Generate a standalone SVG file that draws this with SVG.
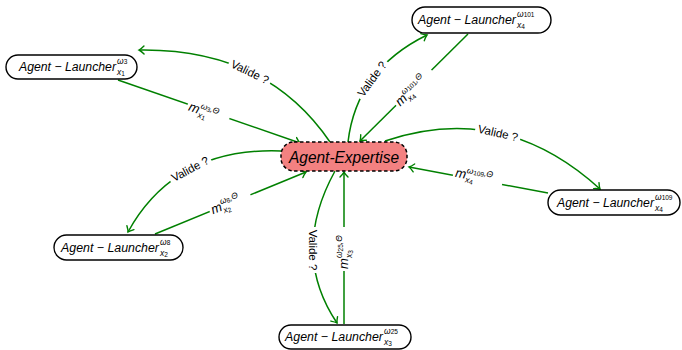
<svg xmlns="http://www.w3.org/2000/svg" width="682" height="350" viewBox="0 0 682 350">
<style>
  .ln{fill:#fff;stroke:#000;stroke-width:1.4}
  .ex{fill:#f38181;stroke:#000;stroke-width:1.5;stroke-dasharray:3.5 2.5}
  .lt{font-family:"Liberation Sans",Arial,sans-serif;font-style:italic;font-size:12.5px;fill:#000}
  .et{font-family:"Liberation Sans",Arial,sans-serif;font-style:italic;font-size:17px;fill:#000}
  .sup,.sub{font-family:"Liberation Sans",Arial,sans-serif;font-style:italic;font-size:8.5px;fill:#000}
  .ss{font-size:6.5px;font-style:normal}
  .e{fill:none;stroke:#008000;stroke-width:1.5;marker-end:url(#ah)}
  .lb{font-family:"Liberation Sans",Arial,sans-serif;font-size:11.5px;fill:#000}
  .m{font-family:"Liberation Sans",Arial,sans-serif;font-style:italic;font-size:13px;fill:#000}
  .bg{fill:#fff}
</style>
<defs>
  <marker id="ah" viewBox="-6 -5 8 10" markerWidth="8" markerHeight="10" refX="0" refY="0" orient="auto" markerUnits="userSpaceOnUse">
    <path d="M-5,-4 Q-2,-1 0,0 Q-2,1 -5,4" fill="none" stroke="#008000" stroke-width="1.4" stroke-linecap="round"/>
  </marker>
</defs>

<g id="connectors">
  <path class="e" d="M118,80 L300,143"/>
  <path class="e" d="M330,142 Q266,48 139,50"/>
  <path class="e" d="M348,142 Q356.5,69.5 427,35"/>
  <path class="e" d="M468,34 L360,141"/>
  <path class="e" d="M385,141 Q503.5,101 600,189"/>
  <path class="e" d="M548,193 L409,167"/>
  <path class="e" d="M281,151 Q175,147 128,232"/>
  <path class="e" d="M155,234 L306,172"/>
  <path class="e" d="M335,171 Q290,253 337,323"/>
  <path class="e" d="M344,324 L344,172"/>
</g>

<g id="labels">
  <g transform="translate(250,72) rotate(26)">
    <rect class="bg" x="-23" y="-8" width="46" height="15"/>
    <text class="lb" x="0" y="4" text-anchor="middle">Valide ?</text>
  </g>
  <g transform="translate(208,113) rotate(19)">
    <rect class="bg" x="-22" y="-11" width="44" height="20"/>
    <text class="m" x="-20" y="4">m</text>
    <text class="sup" x="-9" y="-2">ω<tspan class="ss" dy="1">3</tspan><tspan dy="-1">,Θ</tspan></text>
    <text class="sub" x="-9" y="7.5">x<tspan class="ss" dy="1">1</tspan></text>
  </g>
  <g transform="translate(372,79) rotate(-53.6)">
    <rect class="bg" x="-23" y="-8" width="46" height="15"/>
    <text class="lb" x="0" y="4" text-anchor="middle">Valide ?</text>
  </g>
  <g transform="translate(414,88) rotate(-44)">
    <rect class="bg" x="-25" y="-11" width="50" height="20"/>
    <text class="m" x="-23" y="4">m</text>
    <text class="sup" x="-12" y="-2">ω<tspan class="ss" dy="1">101</tspan><tspan dy="-1">,Θ</tspan></text>
    <text class="sub" x="-12" y="7.5">x<tspan class="ss" dy="1">4</tspan></text>
  </g>
  <g transform="translate(498,133) rotate(12.6)">
    <rect class="bg" x="-23" y="-8" width="46" height="15"/>
    <text class="lb" x="0" y="4" text-anchor="middle">Valide ?</text>
  </g>
  <g transform="translate(478,177) rotate(10.2)">
    <rect class="bg" x="-25" y="-11" width="50" height="20"/>
    <text class="m" x="-23" y="4">m</text>
    <text class="sup" x="-12" y="-2">ω<tspan class="ss" dy="1">109</tspan><tspan dy="-1">,Θ</tspan></text>
    <text class="sub" x="-12" y="7.5">x<tspan class="ss" dy="1">4</tspan></text>
  </g>
  <g transform="translate(190,169) rotate(-28)">
    <rect class="bg" x="-23" y="-8" width="46" height="15"/>
    <text class="lb" x="0" y="4" text-anchor="middle">Valide ?</text>
  </g>
  <g transform="translate(230,203) rotate(-22)">
    <rect class="bg" x="-22" y="-11" width="44" height="20"/>
    <text class="m" x="-20" y="4">m</text>
    <text class="sup" x="-9" y="-2">ω<tspan class="ss" dy="1">8</tspan><tspan dy="-1">,Θ</tspan></text>
    <text class="sub" x="-9" y="7.5">x<tspan class="ss" dy="1">2</tspan></text>
  </g>
  <g transform="translate(313,250) rotate(90)">
    <rect class="bg" x="-23" y="-8" width="46" height="15"/>
    <text class="lb" x="0" y="4" text-anchor="middle">Valide ?</text>
  </g>
  <g transform="translate(344,249) rotate(-90)">
    <rect class="bg" x="-22" y="-11" width="44" height="20"/>
    <text class="m" x="-20" y="4">m</text>
    <text class="sup" x="-9" y="-2">ω<tspan class="ss" dy="1">25</tspan><tspan dy="-1">,Θ</tspan></text>
    <text class="sub" x="-9" y="7.5">x<tspan class="ss" dy="1">3</tspan></text>
  </g>
</g>

<g id="agent-expertise">
  <rect class="ex" x="281" y="142" width="126" height="29" rx="13"/>
  <text class="et" x="344" y="162.5" text-anchor="middle" textLength="110" lengthAdjust="spacingAndGlyphs">Agent-Expertise</text>
</g>

<g id="launcher-x1-w3">
  <rect class="ln" x="6" y="55" width="131" height="24" rx="12"/>
  <text class="lt" x="19" y="71" textLength="97" lengthAdjust="spacingAndGlyphs">Agent − Launcher</text>
  <text class="sup" x="117" y="64">ω<tspan class="ss">3</tspan></text>
  <text class="sub" x="117" y="74.5">x<tspan class="ss" dy="1">1</tspan></text>
</g>

<g id="launcher-x4-w101">
  <rect class="ln" x="412" y="7" width="139" height="26" rx="13"/>
  <text class="lt" x="418" y="24" textLength="98" lengthAdjust="spacingAndGlyphs">Agent − Launcher</text>
  <text class="sup" x="517" y="17">ω<tspan class="ss">101</tspan></text>
  <text class="sub" x="517" y="27.5">x<tspan class="ss" dy="1">4</tspan></text>
</g>

<g id="launcher-x4-w109">
  <rect class="ln" x="548" y="190" width="132" height="25" rx="12.5"/>
  <text class="lt" x="557" y="207" textLength="97" lengthAdjust="spacingAndGlyphs">Agent − Launcher</text>
  <text class="sup" x="655" y="200">ω<tspan class="ss">109</tspan></text>
  <text class="sub" x="655" y="210.5">x<tspan class="ss" dy="1">4</tspan></text>
</g>

<g id="launcher-x2-w8">
  <rect class="ln" x="54" y="235" width="129" height="25" rx="12.5"/>
  <text class="lt" x="61" y="252" textLength="98" lengthAdjust="spacingAndGlyphs">Agent − Launcher</text>
  <text class="sup" x="160" y="245">ω<tspan class="ss">8</tspan></text>
  <text class="sub" x="160" y="255.5">x<tspan class="ss" dy="1">2</tspan></text>
</g>

<g id="launcher-x3-w25">
  <rect class="ln" x="279" y="325" width="132" height="24" rx="12"/>
  <text class="lt" x="285" y="341" textLength="98" lengthAdjust="spacingAndGlyphs">Agent − Launcher</text>
  <text class="sup" x="384" y="334">ω<tspan class="ss">25</tspan></text>
  <text class="sub" x="384" y="344.5">x<tspan class="ss" dy="1">3</tspan></text>
</g>
</svg>
